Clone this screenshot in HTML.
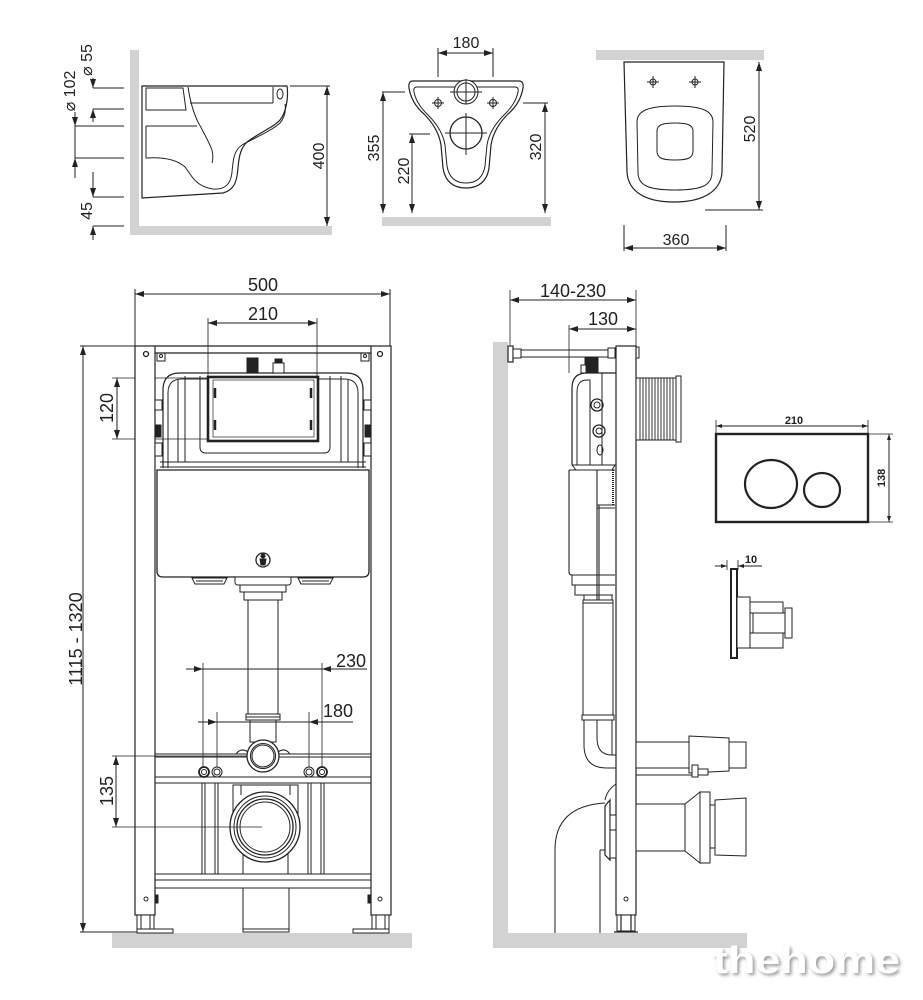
<!DOCTYPE html>
<html><head><meta charset="utf-8"><style>
html,body{margin:0;padding:0;background:#fff;}
svg{display:block;}
text{font-family:"Liberation Sans",sans-serif;fill:#222;stroke:none;}
</style></head><body>
<svg width="923" height="1000" viewBox="0 0 923 1000" xmlns="http://www.w3.org/2000/svg">
<defs>
<marker id="a" markerWidth="9" markerHeight="6" refX="9" refY="3" orient="auto-start-reverse" markerUnits="userSpaceOnUse"><path d="M0,0 L9,3 L0,6 Z" fill="#222"/></marker>
<marker id="s" markerWidth="6" markerHeight="4" refX="6" refY="2" orient="auto-start-reverse" markerUnits="userSpaceOnUse"><path d="M0,0 L6,2 L0,4 Z" fill="#222"/></marker>
<filter id="bl" x="-10%" y="-30%" width="120%" height="160%"><feGaussianBlur stdDeviation="1.6"/></filter>
</defs>
<rect width="923" height="1000" fill="#fff"/>

<!-- gray walls/floors -->
<g fill="#d2d2d2" stroke="none">
<rect x="130" y="50" width="9" height="185"/>
<rect x="130" y="226" width="202" height="9"/>
<rect x="382" y="217" width="169" height="9"/>
<rect x="596" y="50" width="168" height="10"/>
<rect x="112" y="933" width="300" height="15"/>
<rect x="493" y="342" width="15" height="606"/>
<rect x="493" y="933" width="254" height="15"/>
</g>

<g fill="none" stroke="#222" stroke-width="1">
<!-- ===== TOP LEFT: side view of toilet ===== -->
<path d="M142,86 H287 C289,100 285,114 280,120 C274,127 262,131 247,142 C241,148 239,155 238,168 C237,180 235,190 223,193 L142,198 Z" fill="#fff" stroke-width="1.2"/>
<path d="M146,126 V158 C160,157 175,158 185,167 C192,176 195,186 213,189 C225,190 231,184 232,172 C233,160 234,150 242,145 C252,139 270,132 280,123 C285,117 286,110 285,104"/>
<path d="M146,126 H197"/>
<path d="M188,87 C190,100 193,112 198,122 C204,133 209,142 212,150 C213,155 213,160 212,163"/>
<path d="M146,88 H183 L186,110 H146 Z"/>
<path d="M190,103 H273"/>
<path d="M273,87 V103"/>
<ellipse cx="280" cy="94" rx="3" ry="5"/>
<!-- left dims -->
<path d="M93,88 H124 M93,109 H124 M75,126 H124 M75,158 H124 M93,197 H124 M93,226 H124"/>
<line x1="93" y1="78" x2="93" y2="88" marker-end="url(#a)"/>
<line x1="93" y1="122" x2="93" y2="109" marker-end="url(#a)"/>
<line x1="75" y1="112" x2="75" y2="126" marker-end="url(#a)"/>
<line x1="75" y1="126" x2="75" y2="158"/>
<line x1="75" y1="178" x2="75" y2="158" marker-end="url(#a)"/>
<line x1="93" y1="172" x2="93" y2="197" marker-end="url(#a)"/>
<line x1="93" y1="240" x2="93" y2="226" marker-end="url(#a)"/>
<!-- 400 -->
<path d="M290,86 H330"/>
<line x1="327" y1="86" x2="327" y2="226" marker-start="url(#a)" marker-end="url(#a)"/>

<!-- ===== TOP MIDDLE: front view ===== -->
<path d="M413,81 H519 Q524,81 523,88 C521,100 515,108 508,114 C500,122 493,132 491,145 L489,168 C487,182 478,188 466,188 C454,188 445,182 443,168 L441,145 C439,132 432,122 424,114 C417,108 411,100 409,88 Q408,81 413,81 Z" fill="#fff" stroke-width="1.2"/>
<path d="M417,87 H515 Q519,87 518,92 C516,102 510,109 504,115 C497,122 489,132 487,145 L485,166 C483,178 476,183 466,183 C456,183 449,178 447,166 L445,145 C443,132 435,122 428,115 C422,109 416,102 414,92 Q413,87 417,87 Z"/>
<circle cx="466" cy="92" r="12" fill="#fff"/>
<circle cx="466" cy="92" r="9"/>
<path d="M466,79 V104 M450,92 H482"/>
<circle cx="466" cy="133" r="16" fill="#fff" stroke-width="1.3"/>
<path d="M466,113 V155 M445,133 H487"/>
<circle cx="438" cy="103" r="3.5"/><path d="M438,97 V109 M432,103 H444"/>
<circle cx="493" cy="103" r="3.5"/><path d="M493,97 V109 M487,103 H499"/>
<path d="M438,48 V77 M493,48 V77"/>
<line x1="438" y1="53" x2="493" y2="53" marker-start="url(#a)" marker-end="url(#a)"/>
<path d="M382,92 H405 M409,134 H430 M523,103 H548"/>
<line x1="383" y1="92" x2="383" y2="213" marker-start="url(#a)" marker-end="url(#a)"/>
<line x1="412" y1="134" x2="412" y2="213" marker-start="url(#a)" marker-end="url(#a)"/>
<line x1="545" y1="103" x2="545" y2="213" marker-start="url(#a)" marker-end="url(#a)"/>

<!-- ===== TOP RIGHT: top view ===== -->
<path d="M624,62 H724 L722,172 C721,190 705,202 674,202 C643,202 628,190 627,172 Z" fill="#fff" stroke-width="1.2"/>
<path d="M637,122 C637,110 650,106 675,106 C700,106 713,110 713,122 L712,172 C712,185 703,190 675,190 C647,190 638,185 638,172 Z"/>
<path d="M657,131 C657,124 665,123 675,123 C685,123 693,124 693,131 L693,151 C693,158 688,160 675,160 C662,160 657,158 657,151 Z"/>
<circle cx="653" cy="82" r="3"/><path d="M653,76 V88 M647,82 H659"/>
<circle cx="695" cy="82" r="3"/><path d="M695,76 V88 M689,82 H701"/>
<path d="M705,210 H763"/>
<line x1="759" y1="62" x2="759" y2="210" marker-start="url(#a)" marker-end="url(#a)"/>
<path d="M624,225 V251 M726,225 V251"/>
<line x1="624" y1="248" x2="726" y2="248" marker-start="url(#a)" marker-end="url(#a)"/>

<!-- ===== MAIN FRONT FRAME ===== -->
<path d="M135,289 V346 M390,289 V346"/>
<line x1="135" y1="294" x2="390" y2="294" marker-start="url(#a)" marker-end="url(#a)"/>
<path d="M208,318 V377 M317,318 V377" stroke-width="0.8"/>
<line x1="208" y1="323" x2="317" y2="323" marker-start="url(#a)" marker-end="url(#a)"/>
<path d="M80,346 H135 M80,932 H137"/>
<line x1="83" y1="346" x2="83" y2="932" marker-start="url(#a)" marker-end="url(#a)"/>
<path d="M112,378 H208 M112,439 H208" stroke-width="0.8"/>
<line x1="117" y1="378" x2="117" y2="439" marker-start="url(#a)" marker-end="url(#a)"/>

<!-- posts -->
<rect x="135" y="346" width="20" height="569" fill="#fff" stroke-width="1.2"/>
<rect x="371" y="346" width="20" height="569" fill="#fff" stroke-width="1.2"/>
<path d="M155,346 H371 M155,353 H371" stroke-width="1.2"/>
<circle cx="146" cy="354" r="2.5" stroke-width="1.3"/>
<circle cx="380" cy="354" r="2.5" stroke-width="1.3"/>
<path d="M157,353 V361 H165 V353 M361,353 V361 H369 V353"/>
<circle cx="161" cy="356" r="1.5"/><circle cx="365" cy="356" r="1.5"/>
<rect x="155" y="400" width="7" height="10" fill="#fff"/>
<rect x="155" y="425" width="6" height="12" fill="#222"/>
<rect x="155" y="443" width="7" height="13" fill="#fff"/>
<rect x="364" y="400" width="7" height="10" fill="#fff"/>
<rect x="365" y="425" width="6" height="12" fill="#222"/>
<rect x="364" y="443" width="7" height="13" fill="#fff"/>

<!-- cistern -->
<path d="M163,468 V390 Q163,373 180,373 H346 Q363,373 363,390 V468" stroke-width="1.2"/>
<path d="M168,468 V393 Q168,379 182,379 H207 M319,379 H344 Q358,379 358,393 V468"/>
<path d="M178,380 V462 M348,380 V462 M185,376 V462 M341,376 V462"/>
<path d="M200,376 V447 Q200,453 206,453 H324 Q330,453 330,447 V376"/>
<path d="M160,462 H366 M160,467 H366"/>
<rect x="208" y="377" width="110" height="64" fill="#fff" stroke-width="2.6"/>
<rect x="213" y="380" width="101" height="57" stroke-width="0.7"/>
<path d="M215,388 V398 M215,420 V430 M311,388 V398 M311,420 V430" stroke-width="2.5"/>
<rect x="247" y="358" width="11" height="15" fill="#222"/>
<rect x="273" y="363" width="11" height="10" fill="#fff"/>
<rect x="275" y="359" width="7" height="4" fill="#222"/>
<path d="M157,470 H369 V571 Q369,577 363,577 H163 Q157,577 157,571 Z" fill="#fff" stroke-width="1.3"/>
<circle cx="263" cy="560" r="7" stroke-width="1.3"/>
<circle cx="263" cy="556" r="2" fill="#222"/>
<path d="M260,559 H266 L265,565 H261 Z" fill="#222"/>
<path d="M192,578 H227 L224,584 H195 Z M196,581 H223"/>
<path d="M298,578 H333 L330,584 H301 Z M302,581 H329"/>
<path d="M235,577 H291 V582 Q291,585 288,585 H238 Q235,585 235,582 Z" fill="#fff"/>
<rect x="240" y="585" width="46" height="7" fill="#fff"/>
<rect x="244" y="592" width="38" height="8" fill="#fff"/>

<!-- pipe -->
<rect x="248" y="600" width="30" height="114" fill="#fff"/>
<rect x="246" y="714" width="34" height="6" fill="#fff"/>
<path d="M246,717 H280"/>
<rect x="250" y="720" width="26" height="22" fill="#fff"/>

<!-- 230/180 dims -->
<path d="M203,663 V767 M322,663 V767 M217,712 V767 M309,712 V767" stroke-width="0.8"/>
<line x1="186" y1="669" x2="203" y2="669" marker-end="url(#a)"/>
<line x1="203" y1="669" x2="322" y2="669"/>
<line x1="367" y1="669" x2="322" y2="669" marker-end="url(#a)"/>
<line x1="198" y1="722" x2="217" y2="722" marker-end="url(#a)"/>
<line x1="217" y1="722" x2="309" y2="722"/>
<line x1="353" y1="722" x2="309" y2="722" marker-end="url(#a)"/>

<!-- middle crossbar -->
<path d="M155,754 H371 M155,757 H371 M155,777 H371 M155,783 H371" stroke-width="1.1"/>
<path d="M236,754 Q241,747 248,752 M290,754 Q285,747 278,752"/>
<circle cx="263" cy="756" r="16" fill="#fff" stroke-width="1.3"/>
<circle cx="263" cy="756" r="12.5" stroke-width="1.1"/>
<circle cx="263" cy="756" r="11"/>
<circle cx="204" cy="772" r="5" fill="#fff" stroke-width="1.8"/>
<circle cx="204" cy="772" r="2.5"/>
<circle cx="217" cy="772" r="5" fill="#fff" stroke-width="1"/>
<circle cx="217" cy="772" r="3"/>
<circle cx="309" cy="772" r="5" fill="#fff" stroke-width="1"/>
<circle cx="309" cy="772" r="3"/>
<circle cx="322" cy="772" r="5" fill="#fff" stroke-width="1.8"/>
<circle cx="322" cy="772" r="2.5"/>
<path d="M202,783 V874 M205,783 V874 M215,783 V874 M218,783 V874 M308,783 V874 M311,783 V874 M321,783 V874 M324,783 V874"/>
<!-- outlet -->
<rect x="233" y="785" width="65" height="30" fill="#fff"/>
<path d="M241,785 V795 M290,785 V795"/>
<rect x="243" y="845" width="45" height="29" fill="#fff"/>
<circle cx="265" cy="827" r="35" fill="#fff" stroke-width="1.3"/>
<circle cx="265" cy="827" r="31"/>
<circle cx="265" cy="827" r="28" stroke-width="1.3"/>
<circle cx="265" cy="827" r="25"/>
<!-- 135 -->
<path d="M112,756 H247 M112,827 H262" stroke-width="0.8"/>
<line x1="116" y1="756" x2="116" y2="827" marker-start="url(#a)" marker-end="url(#a)"/>
<!-- bottom crossbar -->
<path d="M155,874 H371 M155,880 H371 M155,888 H371" stroke-width="1.1"/>
<rect x="243" y="888" width="46" height="44" fill="#fff"/>
<path d="M243,929 H289"/>
<!-- legs -->
<rect x="137" y="915" width="17" height="15" fill="#fff"/>
<path d="M141,915 V930 M150,915 V930"/>
<rect x="137" y="929" width="36" height="4" fill="#fff"/>
<rect x="372" y="915" width="17" height="15" fill="#fff"/>
<path d="M376,915 V930 M385,915 V930"/>
<rect x="353" y="929" width="36" height="4" fill="#fff"/>
<circle cx="146" cy="899" r="2"/><circle cx="380" cy="899" r="2"/>
<rect x="155" y="895" width="3" height="8" fill="#222"/>
<rect x="368" y="895" width="3" height="8" fill="#222"/>

<!-- ===== SIDE VIEW ===== -->
<path d="M510,290 V345 M636,290 V346 M569,325 V373" stroke-width="0.8"/>
<line x1="510" y1="300" x2="636" y2="300" marker-start="url(#a)" marker-end="url(#a)"/>
<line x1="569" y1="329" x2="636" y2="329" marker-start="url(#a)" marker-end="url(#a)"/>
<path d="M513,350 H608 M513,357 H608"/>
<rect x="508" y="346" width="5" height="16" fill="#fff" stroke-width="1.2"/>
<rect x="513" y="349" width="8" height="9" fill="#fff"/>
<rect x="608" y="348" width="7" height="10" fill="#fff"/>
<rect x="616" y="346" width="20" height="569" fill="#fff" stroke-width="1.2"/>
<path d="M636,347 H639 V358 H636"/>
<rect x="617" y="915" width="18" height="16" fill="#fff"/>
<path d="M621,915 V931 M631,915 V931 M614,932 H638" stroke-width="1.2"/>
<circle cx="626" cy="899" r="2"/>
<!-- cistern side -->
<rect x="585" y="358" width="13" height="15" fill="#222"/>
<rect x="581" y="365" width="5" height="8" fill="#fff"/>
<path d="M572,465 V388 Q572,373 587,373 H616" stroke-width="1.2"/>
<path d="M577,465 V392 Q577,380 587,380 H590 V465"/>
<path d="M602,373 V465"/>
<path d="M572,465 L576,470 H612 L615,465 H572"/>
<circle cx="597" cy="405" r="6" stroke-width="1.3"/><circle cx="597" cy="405" r="3"/>
<circle cx="599" cy="431" r="6" stroke-width="1.3"/><circle cx="599" cy="431" r="3"/>
<ellipse cx="600" cy="450" rx="3" ry="5"/>
<path d="M569,470 H615 M569,470 V572 Q569,575 572,575 H615 M597,470 V600 M599,505 V600 M597,505 H615 M597,508 H615" stroke-width="1.1"/>
<path d="M613,470 V505" stroke-width="2" stroke-dasharray="1,1"/>
<path d="M572,575 V585 H615 M575,585 V595 H613 M584,595 V600 M612,595 V600"/>
<!-- pipe side -->
<rect x="583" y="600" width="30" height="115" fill="#fff"/>
<path d="M583,603 H613"/>
<rect x="582" y="715" width="32" height="5" fill="#fff"/>
<path d="M584,720 V745 Q584,768 607,768 H616"/>
<path d="M597,720 V738 Q597,755 612,755 H616 M612,720 V755"/>
<!-- bellows -->
<rect x="636" y="378" width="40" height="62" fill="#fff"/>
<path d="M640,378 V440 M643,378 V440 M646,378 V440 M649,378 V440 M652,378 V440 M655,378 V440 M658,378 V440 M661,378 V440 M664,378 V440 M667,378 V440 M670,378 V440 M673,378 V440" stroke-width="0.9"/>
<rect x="676" y="376" width="5" height="66" fill="#fff"/>
<!-- right pipes -->
<rect x="636" y="742" width="53" height="26" fill="#fff"/>
<path d="M689,736 L729,738 V771 L689,773 Z" fill="#fff"/>
<rect x="729" y="742" width="17" height="26" fill="#fff"/>
<path d="M636,775 H692"/>
<rect x="692" y="765" width="6" height="12" fill="#fff"/>
<rect x="698" y="769" width="10" height="6" fill="#fff"/>
<rect x="636" y="804" width="49" height="47" fill="#fff"/>
<path d="M685,804 L700,792 V863 L685,851 Z" fill="#fff"/>
<rect x="700" y="792" width="10" height="71" fill="#fff"/>
<rect x="710" y="805" width="5" height="43" fill="#fff"/>
<path d="M715,800 L746,798 V856 L715,855 Z" fill="#fff"/>
<!-- left connector -->
<path d="M555,933 V850 Q555,806 605,803"/>
<path d="M600,850 V933 M600,850 H605"/>
<path d="M616,784 Q607,790 605,800"/>
<path d="M605,806 L610,800 V860 L605,855 Z" fill="#fff" stroke-width="1.2"/>
<rect x="610" y="815" width="6" height="43" fill="#fff"/>
<path d="M610,830 H616"/>

<!-- ===== FLUSH PLATE ===== -->
<path d="M716,420 V434 M868,420 V434" stroke-width="0.8"/>
<line x1="716" y1="426" x2="868" y2="426" marker-start="url(#s)" marker-end="url(#s)"/>
<rect x="716" y="434" width="152" height="88" fill="#fff" stroke-width="2.4"/>
<ellipse cx="771" cy="484" rx="26" ry="24" stroke-width="2.2"/>
<ellipse cx="822" cy="490" rx="18" ry="17" stroke-width="2.2"/>
<path d="M868,434 H893 M868,522 H893" stroke-width="0.8"/>
<line x1="889" y1="434" x2="889" y2="522" marker-start="url(#s)" marker-end="url(#s)"/>
<path d="M727,560 V570 M738,560 V570" stroke-width="0.8"/>
<line x1="715" y1="566" x2="727" y2="566" marker-end="url(#s)"/>
<line x1="762" y1="566" x2="738" y2="566" marker-end="url(#s)"/>
<rect x="731" y="569" width="6" height="89" fill="#fff" stroke-width="2"/>
<rect x="737" y="597" width="13" height="51" fill="#fff"/>
<rect x="750" y="602" width="33" height="11" fill="#fff"/>
<rect x="753" y="613" width="37" height="20" fill="#fff"/>
<rect x="750" y="633" width="33" height="15" fill="#fff"/>
<rect x="785" y="608" width="7" height="30" fill="#fff"/>
</g>

<!-- ===== TEXT ===== -->
<g font-size="16">
<text transform="translate(92,60) rotate(-90)" text-anchor="middle">⌀ 55</text>
<text transform="translate(75,91) rotate(-90)" text-anchor="middle">⌀ 102</text>
<text transform="translate(92,211) rotate(-90)" text-anchor="middle">45</text>
<text transform="translate(324,156) rotate(-90)" text-anchor="middle">400</text>
<text x="466" y="48" text-anchor="middle">180</text>
<text transform="translate(379,148) rotate(-90)" text-anchor="middle">355</text>
<text transform="translate(409,171) rotate(-90)" text-anchor="middle">220</text>
<text transform="translate(541,147) rotate(-90)" text-anchor="middle">320</text>
<text transform="translate(755,129) rotate(-90)" text-anchor="middle">520</text>
<text x="676" y="245" text-anchor="middle">360</text>
</g>
<g font-size="18">
<text x="263" y="291" text-anchor="middle">500</text>
<text x="263" y="320" text-anchor="middle">210</text>
<text transform="translate(82,639) rotate(-90)" text-anchor="middle">1115 - 1320</text>
<text transform="translate(113,408) rotate(-90)" text-anchor="middle">120</text>
<text transform="translate(113,791) rotate(-90)" text-anchor="middle">135</text>
<text x="351" y="667" text-anchor="middle">230</text>
<text x="338" y="717" text-anchor="middle">180</text>
<text x="573" y="297" text-anchor="middle">140-230</text>
<text x="603" y="325" text-anchor="middle">130</text>
</g>
<g font-size="11" font-weight="bold">
<text x="794" y="424" text-anchor="middle">210</text>
<text transform="translate(885,478) rotate(-90)" text-anchor="middle">138</text>
<text x="751" y="563" text-anchor="middle">10</text>
</g>

<!-- watermark -->
<text x="715" y="975" font-size="38" font-weight="bold" textLength="187" lengthAdjust="spacingAndGlyphs" style="fill:#9a9a9a" filter="url(#bl)">thehome</text>
<text x="713" y="973" font-size="38" font-weight="bold" textLength="187" lengthAdjust="spacingAndGlyphs" style="fill:#ffffff">thehome</text>
</svg>
</body></html>
